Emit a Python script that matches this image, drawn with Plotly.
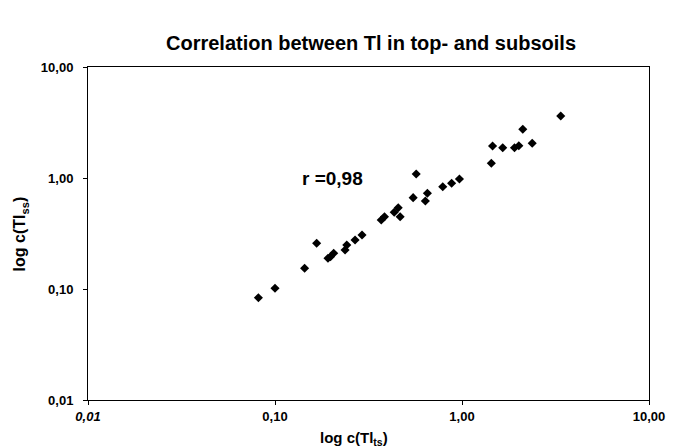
import plotly.graph_objects as go

# Tl concentrations: topsoil (x) vs subsoil (y)
tl_topsoil = [0.0815, 0.100, 0.144, 0.167, 0.192, 0.198, 0.206, 0.237, 0.242, 0.268, 0.292,
              0.370, 0.385, 0.434, 0.456, 0.467, 0.548, 0.569, 0.637, 0.653, 0.789, 0.880,
              0.969, 1.435, 1.457, 1.651, 1.909, 2.013, 2.114, 2.374, 3.373]
tl_subsoil = [0.0835, 0.1015, 0.154, 0.258, 0.189, 0.195, 0.210, 0.2245, 0.249, 0.276, 0.307,
              0.418, 0.448, 0.491, 0.540, 0.448, 0.665, 1.087, 0.621, 0.728, 0.835, 0.896,
              0.979, 1.356, 1.942, 1.875, 1.875, 1.954, 2.746, 2.054, 3.62]

tick_vals = [0.01, 0.1, 1, 10]
tick_text = ["0,01", "0,10", "1,00", "10,00"]
r_label = "r =0,98"

font_family = "Liberation Sans, Arial, sans-serif"

fig = go.Figure()
fig.add_trace(go.Scatter(
    x=tl_topsoil, y=tl_subsoil, mode="markers",
    marker=dict(symbol="diamond", size=7, color="black"),
    showlegend=False,
))

fig.add_annotation(x=-0.695, y=0.0, xref="x", yref="y", text="<b>" + r_label + "</b>",
                   showarrow=False, font=dict(family=font_family, size=19, color="black"))

# axis titles
fig.add_annotation(x=0.475, y=0, xref="paper", yref="paper", yanchor="top", yshift=-27,
                   text="<b>log c(Tl<sub>ts</sub>)</b>", showarrow=False,
                   font=dict(family=font_family, size=15, color="black"))
fig.add_annotation(x=-0.14, y=0.5, xref="paper", yref="paper",
                   text="<b>log c(Tl<sub>ss</sub>)</b>", showarrow=False, textangle=-90,
                   font=dict(family=font_family, size=16, color="black"))

fig.update_layout(
    width=677, height=448,
    margin=dict(l=88, r=18, t=67, b=48),
    paper_bgcolor="white", plot_bgcolor="white",
    title=dict(text="<b>Correlation between Tl in top- and subsoils</b>",
               x=0.548, xanchor="center", y=0.905, yanchor="middle",
               font=dict(family=font_family, size=20, color="black")),
    font=dict(family=font_family, color="black"),
)

fig.update_xaxes(
    type="log", range=[-2, 1], tickvals=tick_vals,
    ticktext=["<b><i>" + t + "</i></b>" if i == 0 else "<b>" + t + "</b>" for i, t in enumerate(tick_text)],
    showline=True, linecolor="black", linewidth=1, mirror=True,
    ticks="outside", ticklen=4, tickcolor="black", showgrid=False, zeroline=False,
    tickfont=dict(family=font_family, size=13),
)
fig.update_yaxes(
    type="log", range=[-2, 1], tickvals=tick_vals,
    ticktext=["<b>" + t + "</b>" for t in tick_text],
    showline=True, linecolor="black", linewidth=1, mirror=True,
    ticks="outside", ticklen=4, tickcolor="black", showgrid=False, zeroline=False,
    tickfont=dict(family=font_family, size=13), ticklabelstandoff=7,
)

fig.write_html("out.html")
